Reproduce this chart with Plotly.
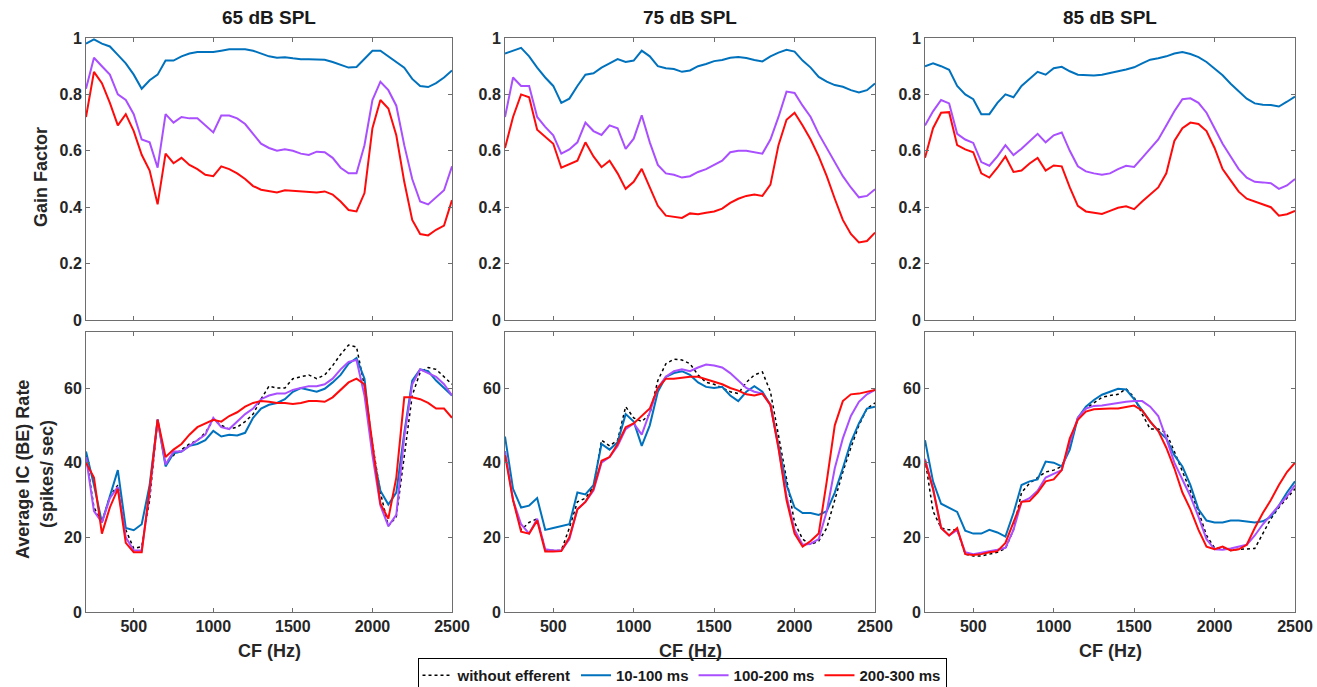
import plotly.graph_objects as go
from plotly.subplots import make_subplots

# ---------------- data ----------------
cf_hz = [200, 250, 300, 350, 400, 450, 500, 550, 600, 650, 700, 750, 800, 850, 900,
         950, 1000, 1050, 1100, 1150, 1200, 1250, 1300, 1350, 1400, 1450, 1500, 1550,
         1600, 1650, 1700, 1750, 1800, 1850, 1900, 1950, 2000, 2050, 2100, 2150, 2200,
         2250, 2300, 2350, 2400, 2450, 2500]

levels = ["65 dB SPL", "75 dB SPL", "85 dB SPL"]
series_names = ["without efferent", "10-100 ms", "100-200 ms", "200-300 ms"]

# Gain factor (top row)
gain_65_10_100 = [0.98, 0.995, 0.98, 0.97, 0.94, 0.91, 0.87, 0.82, 0.85, 0.87, 0.92, 0.92, 0.935, 0.945, 0.95,
                  0.95, 0.95, 0.955, 0.96, 0.96, 0.96, 0.955, 0.945, 0.935, 0.93, 0.932, 0.928, 0.925, 0.925,
                  0.925, 0.923, 0.915, 0.905, 0.895, 0.897, 0.925, 0.955, 0.955, 0.935, 0.915, 0.895, 0.855,
                  0.83, 0.826, 0.84, 0.86, 0.885]
gain_65_100_200 = [0.82, 0.93, 0.90, 0.87, 0.80, 0.78, 0.73, 0.64, 0.63, 0.54, 0.73, 0.70, 0.72, 0.715, 0.715,
                   0.69, 0.665, 0.725, 0.725, 0.715, 0.695, 0.66, 0.625, 0.61, 0.60, 0.605, 0.60, 0.59, 0.585,
                   0.597, 0.595, 0.575, 0.54, 0.52, 0.52, 0.62, 0.78, 0.845, 0.815, 0.76, 0.62, 0.50, 0.42,
                   0.41, 0.435, 0.46, 0.545]
gain_65_200_300 = [0.72, 0.88, 0.84, 0.77, 0.69, 0.73, 0.67, 0.586, 0.53, 0.41, 0.59, 0.556, 0.575, 0.55, 0.535,
                   0.515, 0.51, 0.545, 0.535, 0.52, 0.50, 0.475, 0.462, 0.458, 0.452, 0.46, 0.458, 0.456, 0.452,
                   0.452, 0.456, 0.445, 0.42, 0.39, 0.385, 0.45, 0.68, 0.78, 0.75, 0.655, 0.49, 0.355, 0.305,
                   0.30, 0.32, 0.335, 0.425]

gain_75_10_100 = [0.945, 0.955, 0.965, 0.935, 0.895, 0.86, 0.83, 0.77, 0.785, 0.83, 0.87, 0.875, 0.895, 0.91,
                  0.925, 0.915, 0.92, 0.955, 0.935, 0.90, 0.893, 0.89, 0.88, 0.885, 0.90, 0.908, 0.918, 0.922,
                  0.93, 0.933, 0.929, 0.922, 0.917, 0.935, 0.948, 0.958, 0.952, 0.92, 0.895, 0.862, 0.845,
                  0.833, 0.827, 0.815, 0.807, 0.815, 0.839]
gain_75_100_200 = [0.72, 0.86, 0.83, 0.83, 0.72, 0.685, 0.655, 0.59, 0.605, 0.63, 0.70, 0.67, 0.656, 0.69, 0.68,
                   0.607, 0.643, 0.726, 0.63, 0.55, 0.52, 0.515, 0.505, 0.51, 0.525, 0.535, 0.55, 0.565, 0.595,
                   0.60, 0.60, 0.595, 0.59, 0.64, 0.72, 0.81, 0.805, 0.76, 0.72, 0.66, 0.61, 0.56, 0.51, 0.47,
                   0.435, 0.44, 0.464]
gain_75_200_300 = [0.61, 0.72, 0.80, 0.79, 0.675, 0.65, 0.625, 0.54, 0.553, 0.565, 0.63, 0.58, 0.542, 0.565,
                   0.52, 0.465, 0.49, 0.536, 0.47, 0.405, 0.37, 0.365, 0.362, 0.378, 0.375, 0.38, 0.385, 0.395,
                   0.415, 0.43, 0.44, 0.445, 0.44, 0.48, 0.62, 0.71, 0.735, 0.69, 0.64, 0.58, 0.51, 0.43,
                   0.355, 0.305, 0.275, 0.28, 0.31]

gain_85_10_100 = [0.90, 0.91, 0.90, 0.887, 0.83, 0.80, 0.783, 0.73, 0.73, 0.77, 0.80, 0.79, 0.83, 0.855, 0.88,
                  0.87, 0.893, 0.898, 0.882, 0.87, 0.868, 0.867, 0.87, 0.875, 0.882, 0.888, 0.896, 0.91, 0.923,
                  0.928, 0.935, 0.945, 0.95, 0.943, 0.932, 0.915, 0.89, 0.868, 0.838, 0.81, 0.785, 0.768,
                  0.763, 0.762, 0.757, 0.774, 0.792]
gain_85_100_200 = [0.69, 0.74, 0.78, 0.768, 0.66, 0.64, 0.628, 0.56, 0.547, 0.58, 0.62, 0.585, 0.607, 0.635,
                   0.66, 0.63, 0.655, 0.665, 0.60, 0.545, 0.527, 0.52, 0.515, 0.52, 0.535, 0.547, 0.543, 0.575,
                   0.607, 0.64, 0.69, 0.74, 0.783, 0.786, 0.77, 0.735, 0.68, 0.625, 0.58, 0.535, 0.505, 0.49,
                   0.488, 0.485, 0.465, 0.477, 0.50]
gain_85_200_300 = [0.575, 0.68, 0.735, 0.737, 0.62, 0.605, 0.595, 0.52, 0.505, 0.54, 0.58, 0.525, 0.53, 0.555,
                   0.575, 0.53, 0.548, 0.545, 0.47, 0.405, 0.385, 0.38, 0.376, 0.387, 0.398, 0.403, 0.393, 0.42,
                   0.445, 0.47, 0.52, 0.635, 0.68, 0.70, 0.695, 0.67, 0.61, 0.535, 0.495, 0.455, 0.43, 0.42,
                   0.411, 0.40, 0.37, 0.375, 0.387]

# Average IC (BE) rate (bottom row), spikes/sec
rate_65_none = [42, 28, 24, 31, 34, 22, 17, 17.5, 30, 51.5, 40, 42, 43.5, 45, 46, 48, 51.5, 50, 49, 49.5,
                51, 53, 57, 60.5, 60, 60, 62.5, 63, 63.5, 62.5, 63.5, 66, 69, 71.5, 71, 60.5, 45, 32, 23, 25.5,
                42, 58, 64.2, 65.5, 65, 63, 61]
rate_65_10_100 = [43, 34, 24, 31, 38, 22.5, 21.9, 23.5, 34, 51.5, 39, 42.5, 43, 44.5, 45, 46, 48.5, 47, 47.5,
                  47.3, 48, 52, 54.5, 55.5, 56, 57, 59, 60, 59.5, 59, 59.8, 61.5, 63.5, 66.5, 68, 62.5, 43, 32.5,
                  28.8, 32, 48, 62, 65, 64.5, 62, 60, 58]
rate_65_100_200 = [41.5, 27, 24, 30.5, 33.5, 20, 16.5, 16.5, 32, 51.5, 39.5, 43, 43, 44.5, 46, 47.5, 52, 49.5,
                   49, 51, 53, 54.5, 57, 58, 58.5, 58.5, 59.5, 60, 60.5, 60.5, 61, 62.5, 65, 67, 67.5, 58, 42,
                   28.5, 23, 26, 47, 61, 65, 64, 63, 61, 58]
rate_65_200_300 = [40, 36, 21, 28, 33, 18.5, 16, 16, 33, 51.5, 41.5, 43.5, 45, 47.5, 49.5, 50.5, 51.5, 51,
                   52.5, 53.5, 55, 56, 56.5, 56.3, 56, 56, 55.7, 56, 56.5, 56.5, 56.3, 57.5, 59.5, 61.5, 62.5,
                   61, 45, 29, 25, 36, 57.5, 57.5, 57, 56, 54.5, 54.5, 52]

rate_75_none = [43, 30, 22, 24, 25, 16.7, 16.5, 16.5, 22.5, 29.5, 30.5, 33.5, 46, 44.5, 46, 55, 52, 51, 53, 62,
                66.5, 67.7, 67.5, 66.5, 63.5, 61.5, 61, 60, 59, 58.5, 61.5, 63.5, 64.3, 59, 47, 35, 24, 19.5,
                18, 19, 22.5, 30, 37.5, 44, 50, 54.5, 56]
rate_75_10_100 = [47, 33, 28, 28.5, 30.5, 22, 22.5, 23, 23.5, 32, 31.5, 34, 45, 43.5, 45.5, 53, 51, 44.5, 50,
                  59, 63, 64, 64.5, 63.5, 61.5, 60.3, 60, 60.3, 58, 56.5, 59, 60.5, 59, 55.5, 45, 34, 28, 26.5,
                  26.5, 26, 27, 32, 38.5, 45.5, 50.5, 54.5, 55]
rate_75_100_200 = [43, 30, 23.5, 21, 25, 16.8, 16.5, 16.5, 19.5, 27.5, 29.5, 32.5, 40, 41.5, 44.5, 49, 50.5,
                   47.5, 53.5, 60, 63, 64.5, 65, 64.5, 65.5, 66.3, 66, 65.5, 64, 62, 60, 59, 58.5, 55.5, 44,
                   31, 22, 18, 18.3, 19.5, 27, 38.5, 46.5, 52.5, 56.3, 58.3, 59.5]
rate_75_200_300 = [42, 30, 21.5, 21, 24.5, 16.2, 16.2, 16.3, 20, 27.5, 29.5, 33, 40.5, 41.5, 45, 49.5, 50.5,
                   52.5, 54.5, 60, 62.5, 62.5, 62.8, 63, 63, 62.3, 61.8, 61, 60, 59.3, 58.3, 58, 58.5, 55.5,
                   44, 30, 21, 17.5, 19, 21, 35, 50, 56.5, 58.3, 58.5, 59, 59.5]

rate_85_none = [41, 27, 22.5, 22, 22, 15.5, 15, 15, 15.5, 16, 17, 22, 32, 34.5, 36, 37.5, 38, 39, 44, 52,
                54.5, 56, 57.5, 58, 58.3, 59.8, 57.5, 53, 49, 49, 48, 43, 37.5, 32, 27, 20.5, 17.2, 17, 16.5,
                16.8, 17, 17, 21, 25, 28, 30.5, 33]
rate_85_10_100 = [46, 35, 29, 27.8, 26.8, 21.8, 21, 21, 22, 21.3, 20.2, 26.5, 34, 35, 35.5, 40.3, 40, 39, 43.5,
                  52, 55, 56.8, 58.2, 59, 59.8, 59.6, 57, 54, 51, 48.5, 46.5, 42, 39, 34, 27.5, 24.5, 24, 24,
                  24.5, 24.5, 24.2, 24, 24.3, 25.5, 28.5, 32, 35]
rate_85_100_200 = [41, 33, 22.5, 20.5, 22, 16, 15.5, 16, 16.3, 16.7, 17.2, 22, 29.5, 30.5, 32.5, 36, 37, 38,
                   45.5, 52, 54.5, 55.2, 55.3, 55.7, 56, 56.3, 56.5, 56.5, 55, 52.5, 46.5, 40, 35.5, 31, 25.5,
                   19.5, 16.8, 16.7, 17, 17.5, 18, 20.5, 23.5, 26, 28.5, 31, 34]
rate_85_200_300 = [40.5, 33, 22.5, 20.5, 22.5, 15.5, 15.3, 15.5, 16, 16.3, 18.5, 24, 29.5, 29.7, 32, 35, 35.5,
                   38, 46.5, 51.5, 53.7, 54.3, 54.5, 54.5, 54.5, 54.8, 55.3, 54, 51, 48.5, 44, 38.5, 32, 27.5,
                   22, 17.5, 16.8, 17.5, 16.5, 16.8, 18, 22.5, 26.5, 30, 34, 37.5, 40]

gain_tick_vals = [0, 0.2, 0.4, 0.6, 0.8, 1]
gain_tick_text = ["0", "0.2", "0.4", "0.6", "0.8", "1"]
rate_tick_vals = [0, 20, 40, 60]
cf_tick_vals = [500, 1000, 1500, 2000, 2500]

# ---------------- styling ----------------
FONT = "Liberation Sans"
styles = {
    "without efferent": dict(color="black", width=1.5, dash="dot"),
    "10-100 ms": dict(color="#0072BD", width=2),
    "100-200 ms": dict(color="#A94FFF", width=2),
    "200-300 ms": dict(color="#FF0A0A", width=2),
}

gain_rows = [
    {"10-100 ms": gain_65_10_100, "100-200 ms": gain_65_100_200, "200-300 ms": gain_65_200_300},
    {"10-100 ms": gain_75_10_100, "100-200 ms": gain_75_100_200, "200-300 ms": gain_75_200_300},
    {"10-100 ms": gain_85_10_100, "100-200 ms": gain_85_100_200, "200-300 ms": gain_85_200_300},
]
rate_rows = [
    {"without efferent": rate_65_none, "10-100 ms": rate_65_10_100,
     "100-200 ms": rate_65_100_200, "200-300 ms": rate_65_200_300},
    {"without efferent": rate_75_none, "10-100 ms": rate_75_10_100,
     "100-200 ms": rate_75_100_200, "200-300 ms": rate_75_200_300},
    {"without efferent": rate_85_none, "10-100 ms": rate_85_10_100,
     "100-200 ms": rate_85_100_200, "200-300 ms": rate_85_200_300},
]

W, H = 1317, 687
fig = make_subplots(rows=2, cols=3)

for c in range(3):
    for name in series_names[1:]:
        fig.add_trace(go.Scatter(x=cf_hz, y=gain_rows[c][name], mode="lines", name=name,
                                 line=styles[name], showlegend=False, legendgroup=name,
                                 hoverinfo="skip"), row=1, col=c + 1)
    for name in series_names:
        fig.add_trace(go.Scatter(x=cf_hz, y=rate_rows[c][name], mode="lines", name=name,
                                 line=styles[name], showlegend=(c == 0), legendgroup=name,
                                 hoverinfo="skip"), row=2, col=c + 1)

# pixel layout of the six panels
col_px = [(86, 452), (505, 875), (925, 1295)]
row_px = [(38, 320), (332, 612)]

axis_font = dict(family=FONT, size=16, color="#262626", weight="bold")
common = dict(showline=True, mirror="ticks", linecolor="#6e6e6e", linewidth=1,
              ticks="inside", ticklen=4, tickcolor="#6e6e6e", showgrid=False,
              zeroline=False, tickfont=axis_font, fixedrange=True)

layout_axes = {}
idx = 0
for r in range(2):
    for c in range(3):
        idx += 1
        suffix = "" if idx == 1 else str(idx)
        x0, x1 = col_px[c]
        y0, y1 = row_px[r]
        layout_axes["xaxis" + suffix] = dict(
            common, domain=[x0 / W, x1 / W], range=[200, 2500],
            tickvals=cf_tick_vals, showticklabels=(r == 1))
        if r == 0:
            layout_axes["yaxis" + suffix] = dict(
                common, domain=[1 - y1 / H, 1 - y0 / H], range=[0, 1],
                tickvals=gain_tick_vals, ticktext=gain_tick_text)
        else:
            layout_axes["yaxis" + suffix] = dict(
                common, domain=[1 - y1 / H, 1 - y0 / H], range=[0, 75],
                tickvals=rate_tick_vals)

fig.update_layout(**layout_axes)

annotations = []
for c in range(3):
    xc = (col_px[c][0] + col_px[c][1]) / 2 / W
    annotations.append(dict(text=levels[c], x=xc, y=1 - 18 / H, xref="paper", yref="paper",
                            showarrow=False, xanchor="center", yanchor="middle",
                            font=dict(family=FONT, size=19, color="#1a1a1a", weight="bold")))
    annotations.append(dict(text="CF (Hz)", x=xc, y=1 - 651 / H, xref="paper", yref="paper",
                            showarrow=False, xanchor="center", yanchor="middle",
                            font=dict(family=FONT, size=18, color="#262626", weight="bold")))

ytitle_font = dict(family=FONT, size=18, color="#262626", weight="bold")
annotations.append(dict(text="Gain Factor", x=41 / W, y=1 - 177 / H, xref="paper", yref="paper",
                        showarrow=False, textangle=-90, xanchor="center", yanchor="middle",
                        font=ytitle_font))
annotations.append(dict(text="Average IC (BE) Rate", x=23 / W, y=1 - 470 / H, xref="paper",
                        yref="paper", showarrow=False, textangle=-90, xanchor="center",
                        yanchor="middle", font=ytitle_font))
annotations.append(dict(text="(spikes/ sec)", x=47 / W, y=1 - 474 / H, xref="paper",
                        yref="paper", showarrow=False, textangle=-90, xanchor="center",
                        yanchor="middle", font=ytitle_font))

fig.update_layout(
    width=W, height=H,
    margin=dict(l=0, r=0, t=0, b=0, autoexpand=False),
    paper_bgcolor="white", plot_bgcolor="white",
    annotations=annotations,
    showlegend=True,
    legend=dict(orientation="h", x=682 / W, xanchor="center", y=1 - 658 / H, yanchor="top",
                bordercolor="black", borderwidth=1, bgcolor="white",
                font=dict(family=FONT, size=15, color="#1a1a1a", weight="bold"),
                itemwidth=30, tracegroupgap=0, itemclick=False, itemdoubleclick=False),
)

fig.write_html("out.html")
